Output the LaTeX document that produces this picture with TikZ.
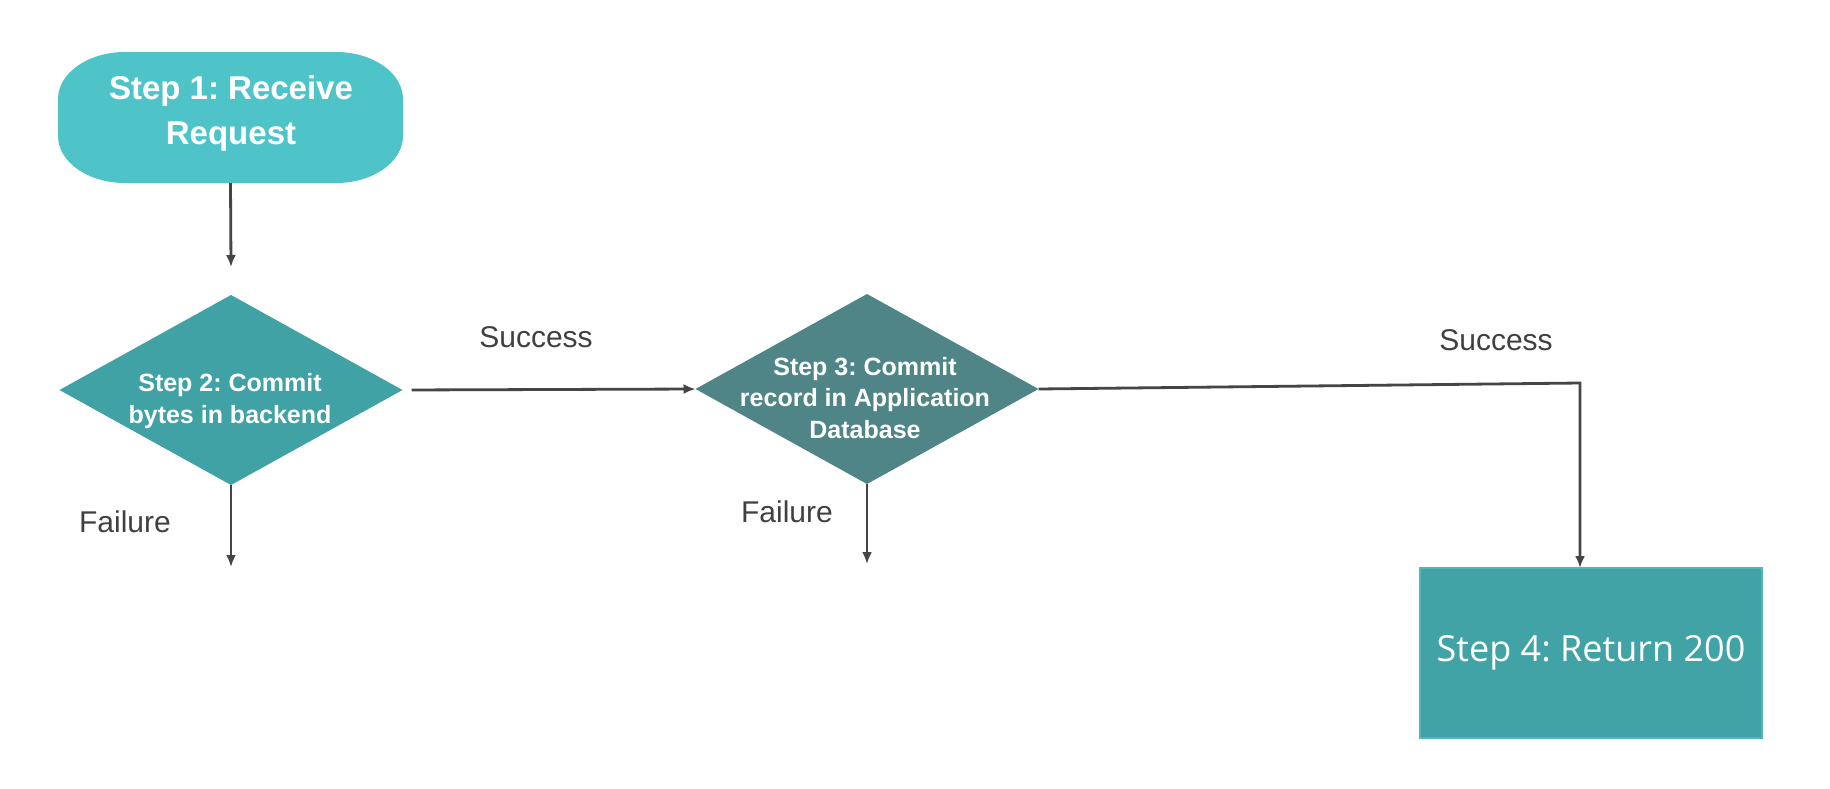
\documentclass[tikz,border=0pt]{standalone}
\usepackage{fontspec}
\setmainfont{Liberation Sans}
\newfontfamily\osans{Open Sans}
\usetikzlibrary{shapes.geometric,arrows.meta}
\definecolor{cOne}{HTML}{4FC4C8}
\definecolor{cTwo}{HTML}{41A2A5}
\definecolor{cThree}{HTML}{4F8587}
\definecolor{cFour}{HTML}{42A3A6}
\definecolor{cFourEdge}{HTML}{55B5B8}
\definecolor{cLine}{HTML}{454545}
\definecolor{cLabel}{HTML}{404040}
\frenchspacing
\begin{document}
\begin{tikzpicture}[x=1pt,y=-1pt,
  conn/.style={draw=cLine,line width=2.8pt,-{Latex[length=12pt,width=10pt]}},
  dia/.style={diamond,minimum width=343pt,minimum height=190pt,inner sep=0pt,outer sep=0pt},
  stadium/.style={rectangle,minimum width=345pt,minimum height=131pt,inner sep=0pt,outer sep=0pt},
  boxtext/.style={text=white,font=\bfseries\fontsize{25}{31.5}\selectfont,align=center,inner sep=0pt},
  lbl/.style={text=cLabel,font=\fontsize{30}{36}\selectfont,inner sep=0pt},
  retbox/.style={rectangle,fill=cFour,draw=cFourEdge,line width=1.5pt,minimum width=342pt,minimum height=170pt,
    inner sep=0pt,outer sep=0pt,text=white,font=\osans\fontsize{36}{42}\selectfont}]
\useasboundingbox[fill=white] (0,0) rectangle (1830,788);

% Step 1 (stadium with elliptical ends)
\node[stadium] (s1) at (230.5,117.5) {};
\fill[cOne] ([xshift=67pt]s1.north west) -- ([xshift=-67pt]s1.north east)
  arc[start angle=90,end angle=0,x radius=67pt,y radius=47pt]
  -- ([yshift=47pt]s1.south east)
  arc[start angle=0,end angle=-90,x radius=67pt,y radius=47pt]
  -- ([xshift=67pt]s1.south west)
  arc[start angle=270,end angle=180,x radius=67pt,y radius=47pt]
  -- ([yshift=-47pt]s1.north west)
  arc[start angle=180,end angle=90,x radius=67pt,y radius=47pt] -- cycle;
\node[boxtext,font=\bfseries\fontsize{33}{45}\selectfont] (t1) at (231,113) {Step 1: Receive\\Request};

% Step 2 diamond
\node[dia,fill=cTwo] (d1) at (231,390) {};
\node[boxtext] (t2) at (230,401) {Step 2: Commit\\bytes in backend};

% Step 3 diamond
\node[dia,fill=cThree] (d2) at (867,389) {};
\node[boxtext] (t3) at (865,398) {Step 3: Commit\\record in Application\\Database};

% Step 4
\node[retbox] (s4) at (1591,653) {Step 4: Return 200};

% labels
\node[lbl] (l1) at (536,337) {Success};
\node[lbl] (l2) at (1496,340) {Success};
\node[lbl] (l3) at (125,522) {Failure};
\node[lbl] (l4) at (787,512) {Failure};

% connectors
\coordinate (a1) at (231,267);
\coordinate (f1) at (231,567);
\coordinate (f2) at (867,564);
\coordinate (k) at (1580,383);
\draw[conn] (s1.south) -- (a1);
\draw[conn,shorten <=9pt] (d1.east) -- (d2.west);
\draw[conn] (d1.south) -- (f1);
\draw[conn] (d2.south) -- (f2);
\draw[conn] (d2.east) -- (k) -- (k |- s4.north);
\end{tikzpicture}
\end{document}
